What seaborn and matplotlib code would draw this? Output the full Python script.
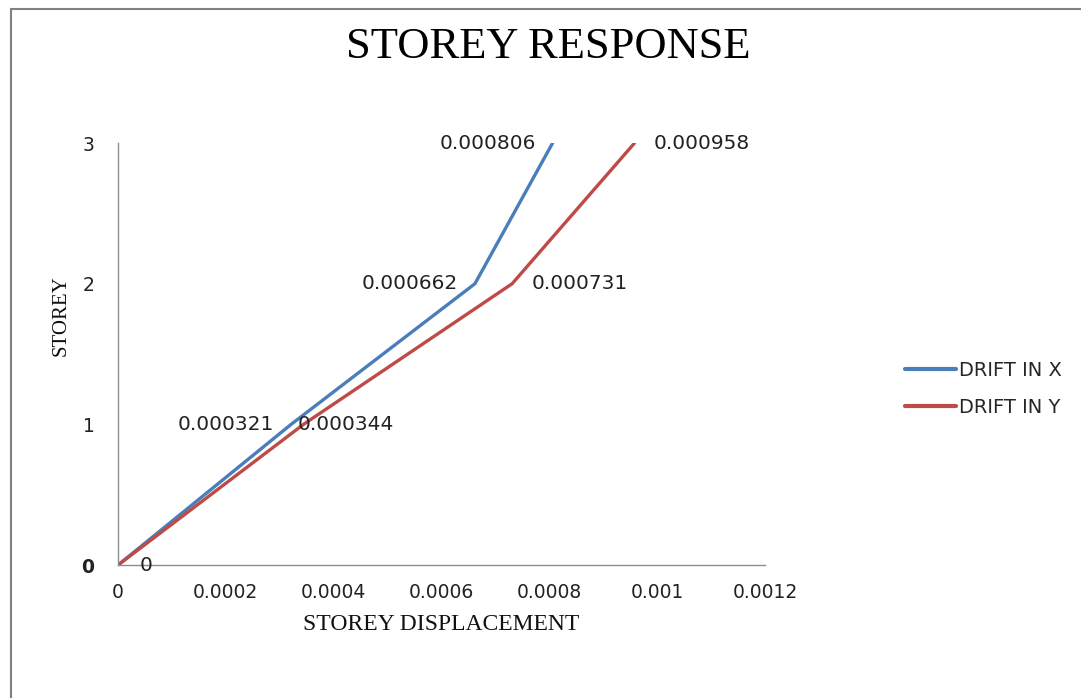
import pandas as pd
import matplotlib
matplotlib.use("Agg")
import matplotlib.pyplot as plt
import seaborn as sns
from matplotlib.lines import Line2D

# Data
storey = [0, 1, 2, 3]
drift_x = [0, 0.000321, 0.000662, 0.000806]
drift_y = [0, 0.000344, 0.000731, 0.000958]
x_ticks = [0, 0.0002, 0.0004, 0.0006, 0.0008, 0.001, 0.0012]
x_tick_labels = ['0', '0.0002', '0.0004', '0.0006', '0.0008', '0.001', '0.0012']
y_ticks = [0, 1, 2, 3]

df = pd.DataFrame({
    'STOREY': storey * 2,
    'DISP': drift_x + drift_y,
    'SERIES': ['DRIFT IN X'] * 4 + ['DRIFT IN Y'] * 4,
})

sns.set_style('white')
plt.rcParams['font.family'] = ['DejaVu Sans']
serif = 'Liberation Serif'
palette = {'DRIFT IN X': '#4A7EBB', 'DRIFT IN Y': '#BE4B48'}

fig = plt.figure(figsize=(10.81, 6.98), dpi=100)
ax = fig.add_axes([0.1092, 0.1905, 0.5985, 0.6046])

sns.lineplot(data=df, x='DISP', y='STOREY', hue='SERIES', palette=palette,
             sort=False, linewidth=2.4, ax=ax, legend=True)

ax.set_xlim(0, 0.0012)
ax.set_ylim(0, 3)
ax.set_xticks(x_ticks)
ax.set_xticklabels(x_tick_labels)
ax.set_yticks(y_ticks)
ax.tick_params(axis='both', length=0, labelsize=13.5, colors='#222222')
ax.tick_params(axis='x', pad=13)
ax.tick_params(axis='y', pad=17)
# the X-series "0" label sits on top of the y tick "0" -> shows as bold
ax.get_yticklabels()[0].set_fontweight('bold')

for side in ['top', 'right']:
    ax.spines[side].set_visible(False)
for side in ['left', 'bottom']:
    ax.spines[side].set_color('#8c8c8c')
    ax.spines[side].set_linewidth(1.0)

ax.set_xlabel('STOREY DISPLACEMENT', family=serif, fontsize=17, color='#111111')
ax.xaxis.set_label_coords(0.5, -0.115)
ax.set_ylabel('STOREY', family=serif, fontsize=15, color='#111111')
ax.yaxis.set_label_coords(-0.074, 0.592)
fig.text(0.507, 0.933, 'STOREY RESPONSE', family=serif, fontsize=32,
         ha='center', va='center', color='black')

# data labels
lbl = dict(fontsize=14.5, color='#222222', va='center')
for x, y in zip(drift_x[1:], storey[1:]):
    ax.annotate(f'{x:.6f}', (x, y), xytext=(-12, 0),
                textcoords='offset points', ha='right', **lbl)
offs = {0: 14, 1: -4, 2: 14, 3: 14}
for x, y in zip(drift_y, storey):
    if y == 0:
        ax.annotate('0', (x, y), xytext=(20, 0), textcoords='offset points',
                    ha='center', **lbl)
    else:
        ax.annotate(f'{x:.6f}', (x, y), xytext=(offs[y], 0),
                    textcoords='offset points', ha='left', **lbl)
for t in ax.texts:
    t.set_clip_on(False)

leg = ax.legend(loc='center left', bbox_to_anchor=(0.837, 0.443),
                bbox_transform=fig.transFigure, frameon=False,
                fontsize=14, handlelength=2.65, handletextpad=0.15,
                labelspacing=0.95, borderaxespad=0, borderpad=0)
for h in leg.get_lines():
    h.set_linewidth(3)

# figure border (top and left edges)
fig.add_artist(Line2D([0.0105, 1.0], [0.9875, 0.9875], color='#808080',
                      linewidth=1.5, transform=fig.transFigure))
fig.add_artist(Line2D([0.0105, 0.0105], [0.0, 0.9875], color='#808080',
                      linewidth=1.5, transform=fig.transFigure))

fig.savefig('out.png', dpi=100)
